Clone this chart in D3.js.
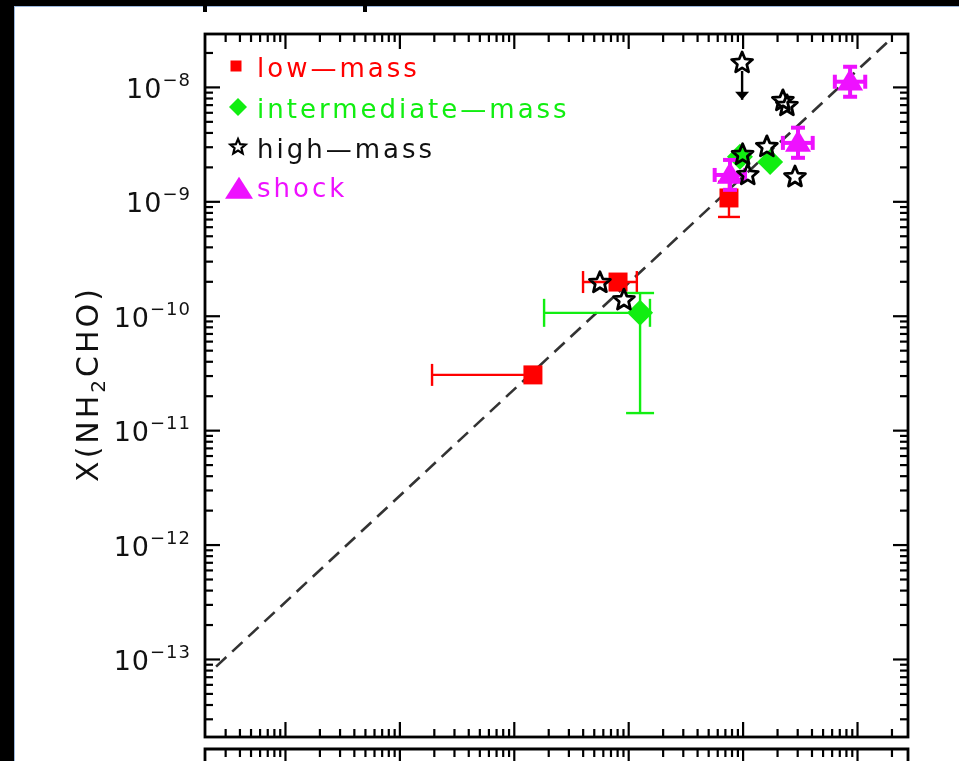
<!DOCTYPE html>
<html><head><meta charset="utf-8">
<script src="https://cdn.jsdelivr.net/npm/d3@7"></script>
<style>body{margin:0;background:#fff;overflow:hidden} svg{display:block;filter:blur(0.6px)}</style>
</head><body>
<svg id="c" width="959" height="761"></svg>
<script>
// ---- data ----
const xDomain = [2.0e-13, 2.79e-7];     // X(HNCO)
const yDomain = [2.08e-14, 2.9e-8];     // X(NH2CHO)
const yTickValues = [1e-13, 1e-12, 1e-11, 1e-10, 1e-9, 1e-8];
const yTickExponents = ["\u221213", "\u221212", "\u221211", "\u221210", "\u22129", "\u22128"];
const yTitle = ["X(NH", "2", "CHO)"];
const legendLabels = ["low\u2014mass", "intermediate\u2014mass", "high\u2014mass", "shock"];
const fitCoef = 0.045, fitSlope = 0.93, fitRange = [2.5e-13, 2e-7];

const lowMass = [
  {x: 1.47e-10, y: 3.04e-11, xlo: 1.93e-11, xhi: 1.47e-10},
  {x: 8.15e-10, y: 1.97e-10, xlo: 4.03e-10, xhi: 1.19e-9},
  {x: 7.6e-9,  y: 1.07e-9,  ylo: 7.3e-10, yhi: 1.48e-9}
];
const intermediateMass = [
  {x: 1.27e-9, y: 1.06e-10, xlo: 1.84e-10, xhi: 1.55e-9, ylo: 1.41e-11, yhi: 1.58e-10},
  {x: 9.48e-9, y: 2.45e-9},
  {x: 1.74e-8, y: 2.21e-9}
];
const highMass = [
  {x: 9.9e-9,  y: 1.62e-8, upper: true},
  {x: 2.25e-8, y: 7.55e-9},
  {x: 2.44e-8, y: 6.83e-9},
  {x: 1.0e-8,  y: 2.55e-9},
  {x: 1.63e-8, y: 2.99e-9},
  {x: 1.11e-8, y: 1.70e-9},
  {x: 2.87e-8, y: 1.63e-9},
  {x: 5.66e-10, y: 1.94e-10},
  {x: 9.18e-10, y: 1.37e-10}
];
const shock = [
  {x: 8.7e-8,  y: 1.11e-8, xlo: 6.4e-8, xhi: 1.18e-7, ylo: 8.2e-9, yhi: 1.5e-8},
  {x: 3.05e-8, y: 3.24e-9, xlo: 2.25e-8, xhi: 4.1e-8, ylo: 2.4e-9, yhi: 4.4e-9},
  {x: 7.76e-9, y: 1.70e-9, xlo: 5.7e-9, xhi: 1.05e-8, ylo: 1.26e-9, yhi: 2.3e-9}
];

// ---- layout ----
const L = 205, R = 908, T = 34, B = 737;
const colors = {low: "#ff0000", inter: "#11ee11", high: "#000000", shock: "#ee11ff"};
const FONT = "DejaVu Sans, sans-serif";

const svg = d3.select("#c");
const x = d3.scaleLog().domain(xDomain).range([L, R]);
const y = d3.scaleLog().domain(yDomain).range([B, T]);

// screenshot borders
svg.append("rect").attr("x", 0).attr("y", 0).attr("width", 959).attr("height", 6).attr("fill", "#000");
svg.append("rect").attr("x", 0).attr("y", 0).attr("width", 14).attr("height", 761).attr("fill", "#000");
svg.append("line").attr("x1", 14.5).attr("x2", 14.5).attr("y1", 6).attr("y2", 761).attr("stroke", "#9bb7dc").attr("stroke-width", 1);
svg.append("line").attr("x1", 14).attr("x2", 959).attr("y1", 6.5).attr("y2", 6.5).attr("stroke", "#9bb7dc").attr("stroke-width", 1);
[205, 365].forEach(px => svg.append("rect").attr("x", px - 2).attr("y", 0).attr("width", 4).attr("height", 12).attr("fill", "#000"));

function minorTicks(dom) {
  const out = [];
  for (let e = -15; e <= -5; e++) for (let k = 2; k <= 9; k++) {
    const v = k * Math.pow(10, e);
    if (v > dom[0] * 1.01 && v < dom[1] * 0.99) out.push(v);
  }
  return out;
}
function majorTicks(dom) {
  const out = [];
  for (let e = -15; e <= -5; e++) { const v = Math.pow(10, e); if (v >= dom[0] && v <= dom[1]) out.push(v); }
  return out;
}
const xMaj = majorTicks(xDomain), xMin = minorTicks(xDomain);
const yMaj = majorTicks(yDomain), yMin = minorTicks(yDomain);
const MAJ = 15, MIN = 8;

function styleAxis(g) {
  g.select(".domain").remove();
  g.selectAll(".tick line").attr("stroke", "#000").attr("stroke-width", 2.2);
  g.selectAll(".tick text").remove();
}
const axes = svg.append("g");
function addAxis(gen, vals, size, tx, ty) {
  axes.append("g").attr("transform", `translate(${tx},${ty})`)
    .call(gen.tickValues(vals).tickSize(-size).tickFormat(""))
    .call(styleAxis);
}
addAxis(d3.axisBottom(x), xMaj, MAJ, 0, B);
addAxis(d3.axisBottom(x), xMin, MIN, 0, B);
addAxis(d3.axisTop(x), xMaj, MAJ, 0, T);
addAxis(d3.axisTop(x), xMin, MIN, 0, T);
addAxis(d3.axisLeft(y), yMaj, MAJ, L, 0);
addAxis(d3.axisLeft(y), yMin, MIN, L, 0);
addAxis(d3.axisRight(y), yMaj, MAJ, R, 0);
addAxis(d3.axisRight(y), yMin, MIN, R, 0);

// lower panel top edge
const P2 = 749;
addAxis(d3.axisTop(x), xMaj, MAJ, 0, P2);
addAxis(d3.axisTop(x), xMin, MIN, 0, P2);
svg.append("path").attr("d", `M${L},775V${P2}H${R}V775`).attr("fill", "none").attr("stroke", "#000").attr("stroke-width", 2.8);

// frame
svg.append("rect").attr("x", L).attr("y", T).attr("width", R - L).attr("height", B - T)
  .attr("fill", "none").attr("stroke", "#000").attr("stroke-width", 2.8);

// y tick labels
const yl = svg.append("g").attr("font-family", FONT).attr("fill", "#111");
yTickValues.forEach((v, i) => {
  const t = yl.append("text").attr("x", 191).attr("y", y(v) + 11).attr("text-anchor", "end")
    .attr("font-size", 27).attr("letter-spacing", 1);
  t.append("tspan").text("10");
  t.append("tspan").attr("font-size", 18).attr("dy", -12).text(yTickExponents[i]);
});

// y title
const tt = svg.append("text").attr("transform", `translate(98,384) rotate(-90)`).attr("text-anchor", "middle")
  .attr("font-family", FONT).attr("font-size", 30).attr("letter-spacing", 3).attr("fill", "#111");
tt.append("tspan").text(yTitle[0]);
tt.append("tspan").attr("font-size", 20).attr("dy", 7).text(yTitle[1]);
tt.append("tspan").attr("dy", -7).text(yTitle[2]);

// fit line
const fitPts = fitRange.map(v => [x(v), y(fitCoef * Math.pow(v, fitSlope))]);
svg.append("line").attr("x1", fitPts[0][0]).attr("y1", fitPts[0][1]).attr("x2", fitPts[1][0]).attr("y2", fitPts[1][1])
  .attr("stroke", "#333").attr("stroke-width", 2.6).attr("stroke-dasharray", "14,8");

// marker shapes
function starPath(r) {
  let p = "";
  for (let i = 0; i < 10; i++) {
    const a = -Math.PI / 2 + i * Math.PI / 5, rr = i % 2 ? r * 0.45 : r;
    p += (i ? "L" : "M") + (rr * Math.cos(a)).toFixed(2) + "," + (rr * Math.sin(a)).toFixed(2);
  }
  return p + "Z";
}
const diamondPath = r => `M0,${-r}L${r},0L0,${r}L${-r},0Z`;
const triPath = (w, h) => `M0,${-h * 0.6}L${w / 2},${h * 0.4}L${-w / 2},${h * 0.4}Z`;
const squarePath = s => `M${-s / 2},${-s / 2}h${s}v${s}h${-s}Z`;

function errorBars(g, d, color, cap, sw) {
  const cx = x(d.x), cy = y(d.y);
  if (d.xlo !== undefined) {
    g.append("line").attr("x1", x(d.xlo)).attr("x2", x(d.xhi)).attr("y1", cy).attr("y2", cy).attr("stroke", color).attr("stroke-width", sw);
    [d.xlo, d.xhi].forEach(v => { if (v !== d.x) g.append("line").attr("x1", x(v)).attr("x2", x(v)).attr("y1", cy - cap).attr("y2", cy + cap).attr("stroke", color).attr("stroke-width", sw); });
  }
  if (d.ylo !== undefined) {
    g.append("line").attr("x1", cx).attr("x2", cx).attr("y1", y(d.ylo)).attr("y2", y(d.yhi)).attr("stroke", color).attr("stroke-width", sw);
    [d.ylo, d.yhi].forEach(v => { if (v !== d.y) g.append("line").attr("y1", y(v)).attr("y2", y(v)).attr("x1", cx - cap).attr("x2", cx + cap).attr("stroke", color).attr("stroke-width", sw); });
  }
}

const pts = svg.append("g");
lowMass.forEach(d => {
  errorBars(pts, d, colors.low, 11, 2.4);
  pts.append("path").attr("d", squarePath(19)).attr("transform", `translate(${x(d.x)},${y(d.y)})`).attr("fill", colors.low);
});
intermediateMass.forEach(d => {
  errorBars(pts, d, colors.inter, 14, 2.4);
  pts.append("path").attr("d", diamondPath(13)).attr("transform", `translate(${x(d.x)},${y(d.y)})`).attr("fill", colors.inter);
});
shock.forEach(d => {
  errorBars(pts, d, colors.shock, 7, 4);
  pts.append("path").attr("d", triPath(26, 22)).attr("transform", `translate(${x(d.x)},${y(d.y)})`).attr("fill", colors.shock);
});
highMass.forEach(d => {
  const cx = x(d.x), cy = y(d.y);
  if (d.upper) {
    const ye = y(d.y / 2.1);
    pts.append("line").attr("x1", cx).attr("x2", cx).attr("y1", cy + 8).attr("y2", ye).attr("stroke", "#000").attr("stroke-width", 2.4);
    pts.append("path").attr("d", `M${cx - 7},${ye - 8}L${cx},${ye}L${cx + 7},${ye - 8}Z`).attr("fill", "#000");
  }
  pts.append("path").attr("d", starPath(11)).attr("transform", `translate(${cx},${cy})`)
    .attr("fill", "none").attr("stroke", "#000").attr("stroke-width", 2.8).attr("stroke-linejoin", "round");
});

// legend
const lg = svg.append("g").attr("font-family", FONT).attr("font-size", 26).attr("letter-spacing", 3);
const legendColors = [colors.low, colors.inter, "#111", colors.shock];
const rowY = [77, 118, 158, 197];
legendLabels.forEach((lab, i) => {
  lg.append("text").attr("x", 257).attr("y", rowY[i]).attr("fill", legendColors[i]).text(lab);
});
lg.append("path").attr("d", squarePath(11)).attr("transform", `translate(236,66)`).attr("fill", colors.low);
lg.append("path").attr("d", diamondPath(9)).attr("transform", `translate(238,107)`).attr("fill", colors.inter);
lg.append("path").attr("d", starPath(8)).attr("transform", `translate(238,147)`).attr("fill", "none").attr("stroke", "#000").attr("stroke-width", 2.2);
lg.append("path").attr("d", triPath(28, 22)).attr("transform", `translate(239,190)`).attr("fill", colors.shock);
</script>
</body></html>
